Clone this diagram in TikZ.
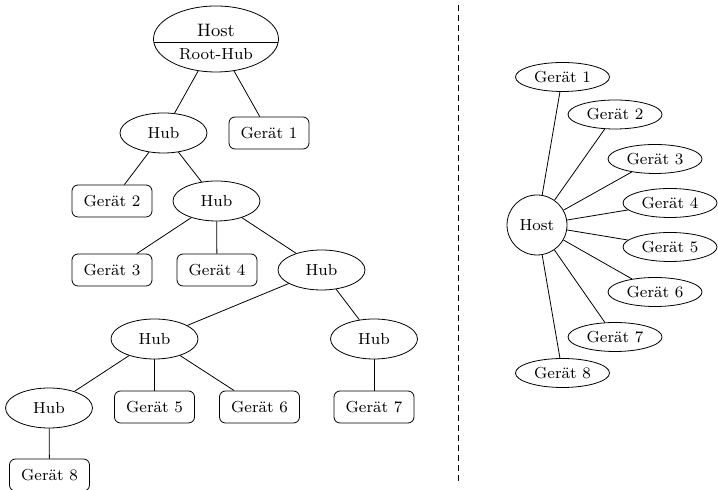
\documentclass[tikz,border=0pt]{standalone}
\usetikzlibrary{shapes.geometric,calc}
\begin{document}
\begin{tikzpicture}[x={(0.5pt,0pt)},y={(0pt,-0.5pt)},
  font=\footnotesize,
  hubnode/.style={draw,ellipse,inner sep=0pt,minimum width=43.5pt,minimum height=20pt},
  devbox/.style={draw,rectangle,rounded corners=3pt,inner sep=0pt,minimum width=40pt,minimum height=16pt},
  devell/.style={draw,ellipse,inner sep=0pt,minimum width=47pt,minimum height=14.5pt},
  hostell/.style={draw,ellipse,inner sep=0pt,minimum width=62.5pt,minimum height=33pt},
  hostcirc/.style={draw,circle,inner sep=0pt,minimum size=30pt},
  conn/.style={draw,line width=0.4pt}]
\useasboundingbox (0,0) rectangle (718,490);
% left tree
\node[hostell] (host) at (216,39) {};
\node[inner sep=0pt] (hosttxt) at (216,30) {\small Host};
\node[inner sep=0pt] (roothub) at (216,54) {Root-Hub};
\draw ($(host.center)+(-62.2,3)$) -- ($(host.center)+(62.2,3)$);
\node[hubnode] (hub1) at (163.5,133) {Hub};
\node[devbox] (g1) at (269,133) {Gerät 1};
\node[devbox] (g2) at (112,201) {Gerät 2};
\node[hubnode] (hub2) at (216.5,201) {Hub};
\node[devbox] (g3) at (112,270) {Gerät 3};
\node[devbox] (g4) at (217,270) {Gerät 4};
\node[hubnode] (hub3) at (321.5,270) {Hub};
\node[hubnode] (hub4) at (154.5,339) {Hub};
\node[hubnode] (hub5) at (374,339) {Hub};
\node[hubnode] (hub6) at (49,408) {Hub};
\node[devbox] (g5) at (154.5,407) {Gerät 5};
\node[devbox] (g6) at (259.5,407) {Gerät 6};
\node[devbox] (g7) at (374,407) {Gerät 7};
\node[devbox] (g8) at (49.5,475) {Gerät 8};
\draw[conn] (host) -- (hub1);
\draw[conn] (host) -- (g1);
\draw[conn] (hub1) -- (g2);
\draw[conn] (hub1) -- (hub2);
\draw[conn] (hub2) -- (g3);
\draw[conn] (hub2) -- (g4);
\draw[conn] (hub2) -- (hub3);
\draw[conn] (hub3) -- (hub4);
\draw[conn] (hub3) -- (hub5);
\draw[conn] (hub4) -- (hub6);
\draw[conn] (hub4) -- (g5);
\draw[conn] (hub4) -- (g6);
\draw[conn] (hub5) -- (g7);
\draw[conn] (hub6) -- (g8);
% separator
\coordinate (septop) at (458,5);
\coordinate (sepbot) at (458,483);
\draw[densely dashed] (septop) -- (sepbot);
% right star
\node[hostcirc] (shost) at (537,225) {Host};
\node[devell] (s1) at (562.5,77) {Gerät 1};
\node[devell] (s2) at (615,114.5) {Gerät 2};
\node[devell] (s3) at (655,159) {Gerät 3};
\node[devell] (s4) at (670,203) {Gerät 4};
\node[devell] (s5) at (670,247) {Gerät 5};
\node[devell] (s6) at (655,292) {Gerät 6};
\node[devell] (s7) at (615,337) {Gerät 7};
\node[devell] (s8) at (562.5,373) {Gerät 8};
\foreach \i in {1,...,8} {\draw[conn] (shost) -- (s\i);}
\end{tikzpicture}
\end{document}
